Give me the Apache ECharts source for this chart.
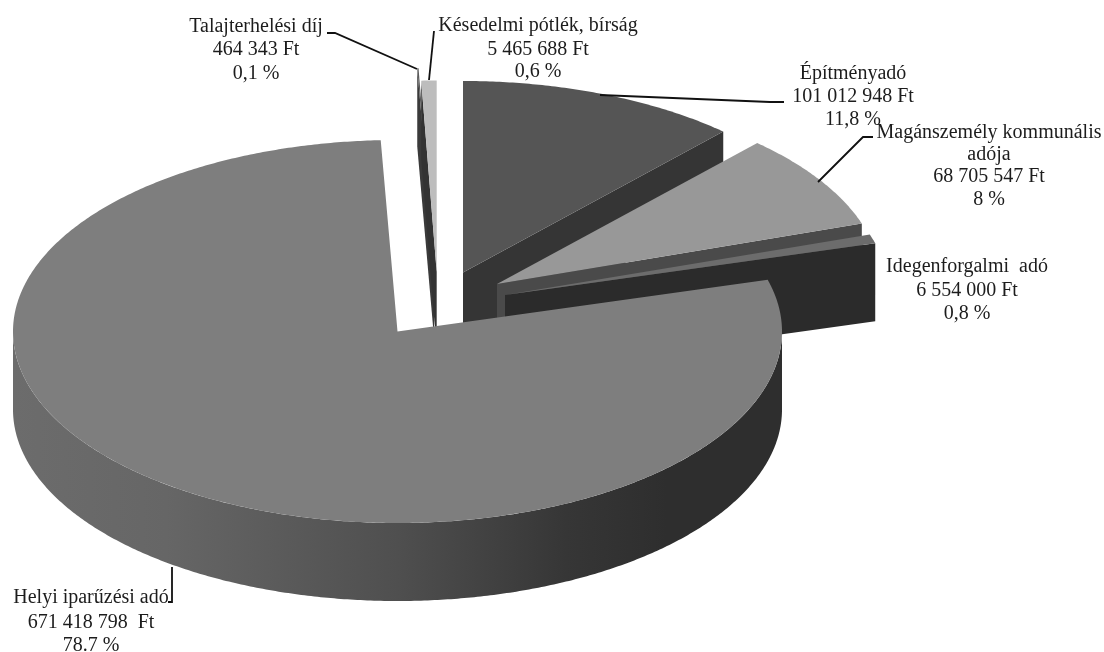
<!DOCTYPE html>
<html>
<head>
<meta charset="utf-8">
<style>html,body{margin:0;padding:0;background:#fff}#c{width:1104px;height:652px}</style>
<script src="https://cdn.jsdelivr.net/npm/echarts@6/dist/echarts.min.js"></script>
</head>
<body>
<div id="c"></div>
<script>
// ---- data (clockwise from 12 o'clock) ----
const categories = ['Építményadó', 'Magánszemély  kommunális', 'Idegenforgalmi  adó', 'Helyi iparűzési adó', 'Talajterhelési díj', 'Késedelmi pótlék, bírság'];
const values = [101012948, 68705547, 6554000, 671418798, 464343, 5465688];
const amountLabels = ['101 012 948 Ft', '68 705 547 Ft', '6 554 000 Ft', '671 418 798  Ft', '464 343 Ft', '5 465 688 Ft'];
const percentLabels = ['11,8 %', '8 %', '0,8 %', '78.7 %', '0,1 %', '0,6 %'];

// ---- styling and layout ----
const pie = { cx: 397.5, cy: 331.5, rx: 384.5, ry: 191.5, depth: 78 };
const explode = [[65.5, -59], [99.5, -47.5], [107.5, -36.5], [0, 0], [36.5, -72], [39.2, -59.5]];
const paintOrder = [4, 5, 0, 1, 2, 3];
const topColors = ['#555555', '#989898', '#6c6c6c', '#7e7e7e', '#5a5a5a', '#bdbdbd'];
const wallColors = ['#353535', '#4a4a4a', '#2b2b2b', '#2f2f2f', '#3a3a3a', '#333333'];
const rimGradient = {
  type: 'linear', x: 13, y: 0, x2: 782, y2: 0, global: true,
  colorStops: [
    { offset: 0, color: '#6c6c6c' }, { offset: 0.2, color: '#666666' }, { offset: 0.5, color: '#4f4f4f' },
    { offset: 0.72, color: '#363636' }, { offset: 0.85, color: '#2e2e2e' }, { offset: 1, color: '#2e2e2e' }
  ]
};
const labelFont = '20px "Liberation Serif"';
const labelLayout = [
  { x: 853, y: [74, 97, 120], line: [[600, 95], [770, 102], [784, 102]] },
  { x: 989, y: [133, 155, 177, 200], line: [[818, 182], [863, 137], [873, 137]] },
  { x: 967, y: [267, 291, 314], line: null },
  { x: 91, y: [598, 623, 646], line: [[172, 567], [172, 602], [168, 602]] },
  { x: 256, y: [27, 50, 74], line: [[327, 33], [335, 33], [417, 69]] },
  { x: 538, y: [26, 50, 72], line: [[434, 31], [429, 80]] }
];

// ---- slice angles from the values ----
const total = values.reduce((a, b) => a + b, 0);
const angles = [];
values.reduce((acc, v) => { const next = acc + v / total * 360; angles.push([acc, next]); return next; }, 0);

function pt(deg, off, h) {
  const a = deg * Math.PI / 180;
  return [pie.cx + off[0] + pie.rx * Math.sin(a), pie.cy + off[1] - pie.ry * Math.cos(a) + h];
}
function arc(a0, a1, off, h) {
  const n = Math.max(1, Math.ceil((a1 - a0) / 0.5)), out = [];
  for (let k = 0; k <= n; k++) out.push(pt(a0 + (a1 - a0) * k / n, off, h));
  return out;
}

function renderSlice(params) {
  const i = params.dataIndex, off = explode[i], [a0, a1] = angles[i];
  const rank = paintOrder.indexOf(i) * 10;
  const apex = pt(0, off, 0); apex[1] += pie.ry;
  const apexLow = [apex[0], apex[1] + pie.depth];
  const children = [];
  // cut faces: last edge for right-hand slices, first edge for slices on the left
  if (i !== 3) {
    const edge = a0 > 180 ? a0 : a1;
    children.push({
      type: 'polygon', z2: rank,
      shape: { points: [apex, pt(edge, off, 0), pt(edge, off, pie.depth), apexLow] },
      style: { fill: wallColors[i] }
    });
  }
  // outer rim, visible only on the front half
  const r0 = Math.max(a0, 90), r1 = Math.min(a1, 270);
  if (r1 > r0) {
    children.push({
      type: 'polygon', z2: rank + 1,
      shape: { points: arc(r0, r1, off, 0).concat(arc(r0, r1, off, pie.depth).reverse()) },
      style: { fill: rimGradient }
    });
  }
  // top face
  children.push({
    type: 'polygon', z2: rank + 2,
    shape: { points: [apex].concat(arc(a0, a1, off, 0)) },
    style: { fill: topColors[i] }
  });
  return { type: 'group', children };
}

// ---- labels and leader lines ----
const graphics = [];
categories.forEach((name, i) => {
  const l = labelLayout[i];
  const lines = i === 1
    ? ['Magánszemély kommunális', 'adója', amountLabels[i], percentLabels[i]]
    : [name, amountLabels[i], percentLabels[i]];
  lines.forEach((t, k) => graphics.push({
    type: 'text', z: 10, x: l.x, y: l.y[k],
    style: { text: t, font: labelFont, fill: '#1c1c1c', align: 'center', verticalAlign: 'middle' }
  }));
  if (l.line) graphics.push({
    type: 'polyline', z: 9, shape: { points: l.line },
    style: { stroke: '#111', lineWidth: 1.8, fill: null }
  });
});

const chart = echarts.init(document.getElementById('c'), null, { renderer: 'canvas' });
chart.setOption({
  animation: false,
  backgroundColor: '#fff',
  series: [{
    type: 'custom', coordinateSystem: 'none', silent: true,
    data: values, renderItem: renderSlice
  }],
  graphic: graphics
});
</script>
</body>
</html>
